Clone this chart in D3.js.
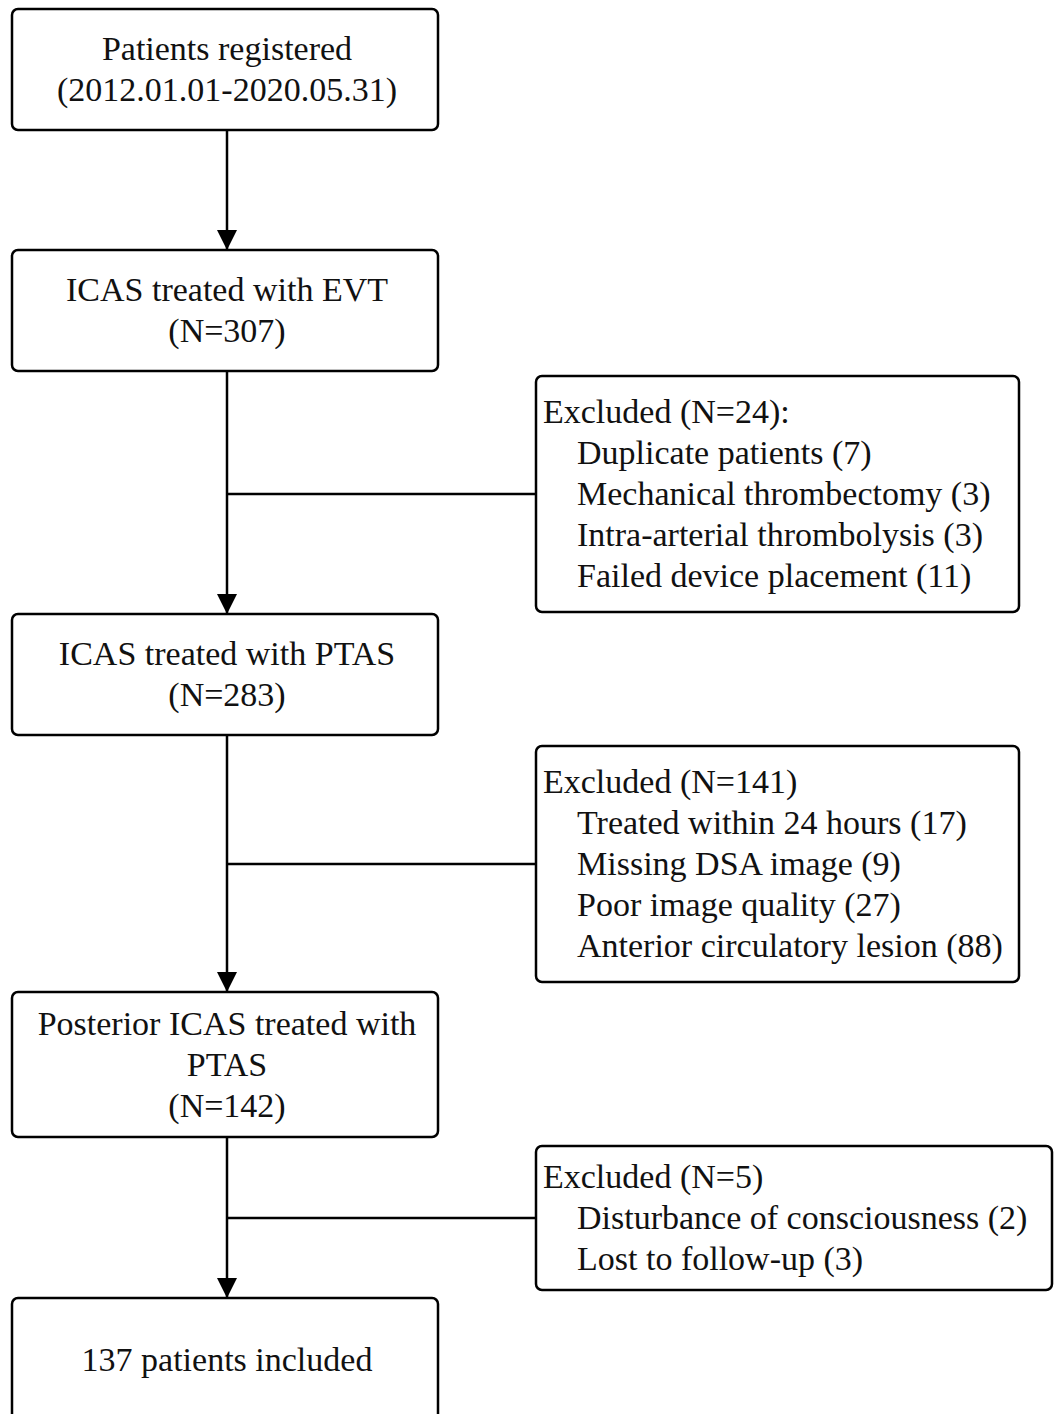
<html>
  <head>
    <script src="https://d3js.org/d3.v7.min.js"></script>
    <meta charset="UTF-8">
  </head>
  <body style="margin:0;background:#fff">
    <div id="chart"></div>
    <script>
      // main flow steps (text lines of each box)
      var mainSteps = [
        ["Patients registered", "(2012.01.01-2020.05.31)"],
        ["ICAS treated with EVT", "(N=307)"],
        ["ICAS treated with PTAS", "(N=283)"],
        ["Posterior ICAS treated with", "PTAS", "(N=142)"],
        ["137 patients included"]
      ];
      // exclusion boxes: header + reasons
      var exclHeaders = ["Excluded (N=24):", "Excluded (N=141)", "Excluded (N=5)"];
      var exclReasons = [
        ["Duplicate patients (7)", "Mechanical thrombectomy (3)", "Intra-arterial thrombolysis (3)", "Failed device placement (11)"],
        ["Treated within 24 hours (17)", "Missing DSA image (9)", "Poor image quality (27)", "Anterior circulatory lesion (88)"],
        ["Disturbance of consciousness (2)", "Lost to follow-up (3)"]
      ];

      var W = 1054, H = 1414;
      var lineH = 41, fs = 34, base = 11;

      // layout of boxes (top, bottom)
      var mainBox = [[9, 130], [250, 371], [614, 735], [992, 1137], [1298, 1422]];
      var exclBox = [[376, 612, 1019], [746, 982, 1019], [1146, 1290, 1052]];
      var x = d3.scaleLinear().domain([0, 1]).range([12, 438]);
      var cx = 227;

      var svg = d3.select("#chart").append("svg")
        .attr("width", W).attr("height", H)
        .style("font-family", "'Liberation Serif','Times New Roman',serif");

      svg.append("defs").append("marker")
        .attr("id", "arr")
        .attr("viewBox", "0 0 20 20")
        .attr("refX", 20).attr("refY", 10)
        .attr("markerWidth", 20).attr("markerHeight", 20)
        .attr("markerUnits", "userSpaceOnUse")
        .attr("orient", "auto")
        .append("path").attr("d", "M0,0 L20,10 L0,20 Z").attr("fill", "#000");

      // vertical arrows
      for (var i = 0; i < mainSteps.length - 1; i++) {
        svg.append("line")
          .attr("x1", cx).attr("x2", cx)
          .attr("y1", mainBox[i][1]).attr("y2", mainBox[i + 1][0])
          .attr("stroke", "#000").attr("stroke-width", 2.5)
          .attr("marker-end", "url(#arr)");
      }

      // main boxes
      var g = svg.selectAll("g.main").data(mainSteps).enter().append("g").attr("class", "main");
      g.append("rect")
        .attr("x", x(0)).attr("width", x(1) - x(0))
        .attr("y", (d, i) => mainBox[i][0])
        .attr("height", (d, i) => mainBox[i][1] - mainBox[i][0])
        .attr("rx", 6).attr("fill", "#fff").attr("stroke", "#000").attr("stroke-width", 2.5);
      g.each(function(d, i) {
        var c = (mainBox[i][0] + mainBox[i][1]) / 2;
        d3.select(this).selectAll("text").data(d).enter().append("text")
          .attr("x", cx)
          .attr("y", (t, j) => c + (j - (d.length - 1) / 2) * lineH + base)
          .attr("text-anchor", "middle")
          .attr("font-size", fs)
          .attr("fill", "#111")
          .text(t => t);
      });

      // exclusion boxes and connectors
      exclHeaders.forEach(function(h, i) {
        var b = exclBox[i];
        var c = (b[0] + b[1]) / 2;
        var lines = [h].concat(exclReasons[i]);
        var lineY = c + (lines.length === 3 ? 0 : 0);
        svg.append("line")
          .attr("x1", cx).attr("x2", 536)
          .attr("y1", lineY).attr("y2", lineY)
          .attr("stroke", "#000").attr("stroke-width", 2.5);
        svg.append("rect")
          .attr("x", 536).attr("width", b[2] - 536)
          .attr("y", b[0]).attr("height", b[1] - b[0])
          .attr("rx", 6).attr("fill", "#fff").attr("stroke", "#000").attr("stroke-width", 2.5);
        svg.selectAll(null).data(lines).enter().append("text")
          .attr("x", (t, j) => j === 0 ? 543 : 577)
          .attr("y", (t, j) => c + (j - (lines.length - 1) / 2) * lineH + base)
          .attr("font-size", fs)
          .attr("fill", "#111")
          .text(t => t);
      });
    </script>
  </body>
</html>
